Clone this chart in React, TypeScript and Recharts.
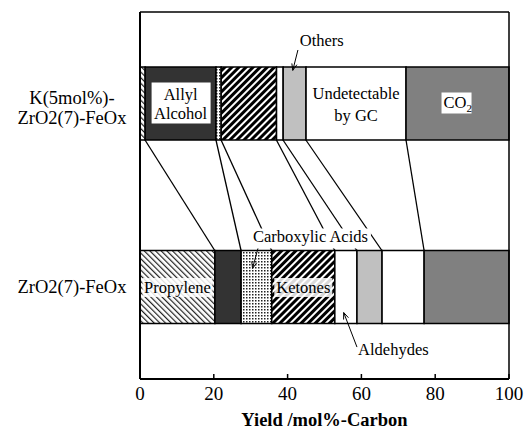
import React from 'react';
import { BarChart, Bar, XAxis, YAxis, ReferenceLine, ReferenceDot, LabelList } from 'recharts';

// ---------- data ----------
const categories = ['K(5mol%)-\nZrO2(7)-FeOx', 'ZrO2(7)-FeOx'];
const propylene = [1.4, 20.3];
const allylAlcohol = [19.2, 7.1];
const carboxylicAcids = [1.4, 8.3];
const ketones = [15.0, 17.1];
const aldehydes = [1.8, 6.0];
const others = [6.2, 6.8];
const undetectable = [27.1, 11.4];
const co2 = [27.9, 23.0];
const xTicks = [0, 20, 40, 60, 80, 100];
const seriesKeys = ['propylene', 'allyl', 'carboxylic', 'ketones', 'aldehydes', 'others', 'undetectable', 'co2'];
const seriesValues = [propylene, allylAlcohol, carboxylicAcids, ketones, aldehydes, others, undetectable, co2];

// ---------- layout / style ----------
const W = 527;
const H = 436;
const M_TOP = 12;
const M_RIGHT = 18;
const Y_AXIS_W = 140;
const X_AXIS_H = 57;
const PLOT_H = H - M_TOP - X_AXIS_H;
const BAR_SIZE = 73;
// helper vertical axis: 0 = bottom of plot, 1 = top of plot
const HALF = BAR_SIZE / 2 / PLOT_H;
const TOP_ROW_BOTTOM = 0.75 - HALF;
const BOTTOM_ROW_TOP = 0.25 + HALF;
const FONT = '"Liberation Serif", "Times New Roman", serif';

const fills: Record<string, string> = {
  propylene: 'url(#pProp)',
  allyl: '#333333',
  carboxylic: 'url(#pDot)',
  ketones: 'url(#pKet)',
  aldehydes: '#ffffff',
  others: '#c0c0c0',
  undetectable: '#ffffff',
  co2: '#808080',
};

const data = categories.map((name, i) => {
  const row: Record<string, any> = { name };
  seriesKeys.forEach((k, j) => {
    row[k] = seriesValues[j][i];
  });
  return row;
});

const cumulative = (row: number) => {
  const out: number[] = [];
  let s = 0;
  for (let j = 0; j < seriesValues.length - 1; j++) {
    s += seriesValues[j][row];
    out.push(s);
  }
  return out;
};
const topCum = cumulative(0);
const botCum = cumulative(1);

// annotation anchors (x in %, y as fraction of plot height from bottom)
const othersArrow = [{ x: 42.8, y: 0.8965 }, { x: 41.4, y: 0.841 }];
const othersText = { x: 43.3, y: 0.9075 };
const carbArrow = [{ x: 32.0, y: 0.357 }, { x: 30.5, y: 0.3015 }];
const carbText = { x: 30.6, y: 0.372 };
const aldArrow = [{ x: 58.8, y: 0.087 }, { x: 55.2, y: 0.181 }];
const aldText = { x: 59.1, y: 0.0655 };

// ---------- helpers ----------
const txt = (x: number, y: number, s: React.ReactNode, size = 16.5, anchor: any = 'middle', extra: any = {}) => (
  <text x={x} y={y} textAnchor={anchor} fontFamily={FONT} fontSize={size} fill="#000" {...extra}>
    {s}
  </text>
);

const arrowShape = (props: any) => {
  const { x1, y1, x2, y2 } = props;
  const ang = Math.atan2(y2 - y1, x2 - x1);
  const L = 7;
  const A = 0.38;
  const a1x = x2 - L * Math.cos(ang - A);
  const a1y = y2 - L * Math.sin(ang - A);
  const a2x = x2 - L * Math.cos(ang + A);
  const a2y = y2 - L * Math.sin(ang + A);
  return (
    <g>
      <line x1={x1} y1={y1} x2={x2} y2={y2} stroke="#000" strokeWidth={1} />
      <polyline points={`${a1x},${a1y} ${x2},${y2} ${a2x},${a2y}`} fill="none" stroke="#000" strokeWidth={1} />
    </g>
  );
};

const connectorShape = (props: any) => {
  const { x1, y1, x2, y2 } = props;
  return <line x1={x1} y1={y1} x2={x2} y2={y2} stroke="#000" strokeWidth={1.3} />;
};

const CatTick = (props: any) => {
  const { x, y, payload } = props;
  const lines = String(payload.value).split('\n');
  const cx = x - 68;
  const start = lines.length === 1 ? y + 6 : y;
  return (
    <g>
      {lines.map((l, i) => (
        <text key={i} x={cx} y={start + i * 20} textAnchor="middle" fontFamily={FONT} fontSize={18.5} fill="#000">
          {l}
        </text>
      ))}
    </g>
  );
};

const vb = (p: any) => {
  const v = p.viewBox || p;
  return { x: Number(v.x), y: Number(v.y), w: Number(v.width), h: Number(v.height) };
};

const allylLabel = (p: any) => {
  if (p.index !== 0) return null;
  const { x, y, w, h } = vb(p);
  const cx = x + w / 2;
  const cy = y + h / 2;
  return (
    <g>
      <rect x={cx - 29} y={cy - 21} width={59} height={41} fill="#fff" />
      {txt(cx, cy - 4, 'Allyl')}
      {txt(cx, cy + 15, 'Alcohol')}
    </g>
  );
};

const undetLabel = (p: any) => {
  if (p.index !== 0) return null;
  const { x, y, w, h } = vb(p);
  const cx = x + w / 2;
  const cy = y + h / 2;
  return (
    <g>
      {txt(cx, cy - 5, 'Undetectable')}
      {txt(cx, cy + 17, 'by GC')}
    </g>
  );
};

const co2Label = (p: any) => {
  if (p.index !== 0) return null;
  const { x, y, w, h } = vb(p);
  const cx = x + w / 2;
  const cy = y + h / 2;
  return (
    <g>
      <rect x={cx - 16} y={cy - 11} width={30} height={21} fill="#fff" />
      <text x={cx - 14} y={cy + 4} fontFamily={FONT} fontSize={16.5} fill="#000">
        CO<tspan fontSize={11} dy={4}>2</tspan>
      </text>
    </g>
  );
};

const boxedLabel = (label: string, boxW: number) => (p: any) => {
  if (p.index !== 1) return null;
  const { x, y, w, h } = vb(p);
  const cx = x + w / 2;
  const cy = y + h / 2;
  return (
    <g>
      <rect x={cx - boxW / 2} y={cy - 9} width={boxW} height={19} fill="#fff" fillOpacity={0.85} />
      {txt(cx, cy + 6, label)}
    </g>
  );
};

const textDot = (label: string, bg: boolean, bgW = 0) => (props: any) => {
  const { cx, cy } = props;
  return (
    <g>
      {bg && <rect x={cx - 2} y={cy - 14} width={bgW} height={20} fill="#fff" />}
      {txt(cx, cy, label, 16.5, 'start')}
    </g>
  );
};

export default function App() {
  return (
    <div style={{ position: 'absolute', left: 0, top: 0, width: W, height: H, background: '#fff' }}>
      <BarChart
        width={W}
        height={H}
        data={data}
        layout="vertical"
        margin={{ top: M_TOP, right: M_RIGHT, left: 0, bottom: 0 }}
        barSize={BAR_SIZE}
      >
        <defs>
          <pattern id="pProp" width="4" height="4" patternUnits="userSpaceOnUse" patternTransform="rotate(-45)">
            <rect width="4" height="4" fill="#fff" />
            <rect width="1.2" height="4" fill="#222" />
          </pattern>
          <pattern id="pKet" width="5" height="5" patternUnits="userSpaceOnUse" patternTransform="rotate(45)">
            <rect width="5" height="5" fill="#fff" />
            <rect width="3" height="5" fill="#000" />
          </pattern>
          <pattern id="pDot" width="3" height="3" patternUnits="userSpaceOnUse">
            <rect width="3" height="3" fill="#fff" />
            <rect width="1.5" height="1.5" fill="#222" />
          </pattern>
        </defs>
        <XAxis
          type="number"
          domain={[0, 100]}
          ticks={xTicks}
          height={X_AXIS_H}
          tickSize={-5}
          tickMargin={13}
          axisLine={{ stroke: '#000', strokeWidth: 2 }}
          tickLine={{ stroke: '#000', strokeWidth: 1.5 }}
          tick={{ fill: '#000', fontSize: 19, fontFamily: FONT }}
          label={{
            value: 'Yield /mol%-Carbon',
            position: 'insideBottom',
            offset: 10,
            fontWeight: 'bold',
            fontSize: 18.5,
            fontFamily: FONT,
            fill: '#000',
          }}
        />
        <YAxis
          type="category"
          dataKey="name"
          width={Y_AXIS_W}
          tickSize={0}
          tickMargin={0}
          tickLine={false}
          axisLine={{ stroke: '#000', strokeWidth: 2 }}
          tick={<CatTick />}
          interval={0}
        />
        <YAxis
          yAxisId="n"
          type="number"
          domain={[0, 1]}
          allowDataOverflow
          reversed
          ticks={[0.5]}
          tick={false}
          mirror
          tickSize={6}
          axisLine={false}
          tickLine={{ stroke: '#000', strokeWidth: 1.5 }}
        />
        {seriesKeys.map((k) => (
          <Bar key={k} dataKey={k} stackId="a" fill={fills[k]} stroke="#000" strokeWidth={1.5} isAnimationActive={false}>
            {k === 'allyl' && <LabelList dataKey={k} content={allylLabel} />}
            {k === 'undetectable' && <LabelList dataKey={k} content={undetLabel} />}
            {k === 'co2' && <LabelList dataKey={k} content={co2Label} />}
            {k === 'propylene' && <LabelList dataKey={k} content={boxedLabel('Propylene', 70)} />}
            {k === 'ketones' && <LabelList dataKey={k} content={boxedLabel('Ketones', 58)} />}
          </Bar>
        ))}
        <ReferenceLine yAxisId="n" y={1} stroke="#000" strokeWidth={1.5} />
        <ReferenceLine yAxisId="n" x={100} stroke="#000" strokeWidth={1.5} />
        {topCum.map((t, i) => (
          <ReferenceLine
            key={'c' + i}
            yAxisId="n"
            segment={[{ x: t, y: TOP_ROW_BOTTOM }, { x: botCum[i], y: BOTTOM_ROW_TOP }]}
            shape={connectorShape}
          />
        ))}
        <ReferenceDot yAxisId="n" x={carbText.x} y={carbText.y} r={0} shape={textDot('Carboxylic Acids', true, 120)} />
        <ReferenceLine yAxisId="n" segment={carbArrow} shape={arrowShape} />
        <ReferenceDot yAxisId="n" x={othersText.x} y={othersText.y} r={0} shape={textDot('Others', false)} />
        <ReferenceLine yAxisId="n" segment={othersArrow} shape={arrowShape} />
        <ReferenceDot yAxisId="n" x={aldText.x} y={aldText.y} r={0} shape={textDot('Aldehydes', false)} />
        <ReferenceLine yAxisId="n" segment={aldArrow} shape={arrowShape} />
      </BarChart>
    </div>
  );
}
